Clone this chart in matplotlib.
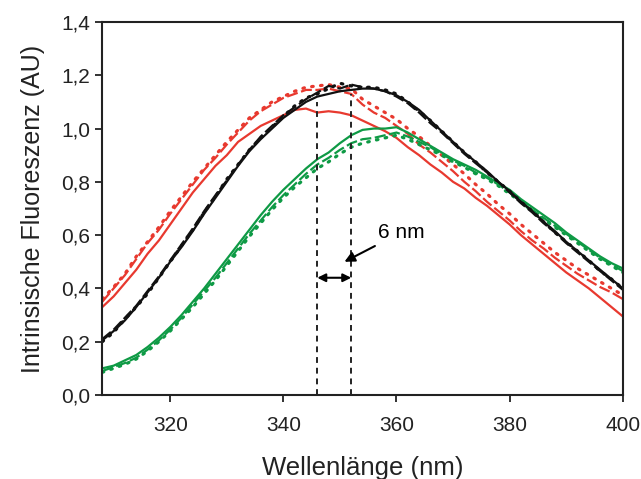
import numpy as np
import matplotlib
matplotlib.use("Agg")
import matplotlib.pyplot as plt

plt.rcParams['font.family'] = ['Liberation Sans', 'DejaVu Sans']

wavelength = list(range(308, 401, 2))

red_solid = [.33, .37, .42, .47, .53, .58, .64, .70, .76, .81, .86, .90, .95, .98, 1.01, 1.03,
             1.05, 1.07, 1.075, 1.06, 1.065, 1.06, 1.05, 1.03, 1.01, .99, .965, .93, .90, .865,
             .835, .80, .775, .74, .71, .675, .64, .60, .565, .53, .495, .46, .43, .40, .365, .33, .295]
red_dashed = [.35, .40, .45, .51, .57, .62, .68, .735, .79, .845, .89, .94, .985, 1.03, 1.065, 1.09,
              1.115, 1.13, 1.145, 1.145, 1.15, 1.14, 1.13, 1.09, 1.06, 1.04, 1.01, .98, .94, .91,
              .875, .84, .80, .765, .725, .69, .655, .615, .58, .55, .515, .485, .455, .43, .405, .385, .36]
red_dotted = [.36, .405, .455, .52, .575, .63, .69, .745, .80, .85, .90, .95, .995, 1.04, 1.07, 1.10,
              1.12, 1.14, 1.155, 1.16, 1.165, 1.155, 1.15, 1.11, 1.085, 1.06, 1.035, 1.0, .97, .935,
              .90, .865, .83, .79, .755, .715, .68, .64, .605, .57, .535, .505, .475, .45, .425, .40, .375]

black_solid = [.205, .24, .28, .33, .385, .44, .50, .555, .615, .68, .74, .80, .86, .915, .96, 1.0,
               1.04, 1.07, 1.10, 1.12, 1.13, 1.14, 1.145, 1.15, 1.15, 1.14, 1.125, 1.10, 1.07, 1.03,
               .99, .95, .91, .875, .84, .80, .765, .725, .69, .65, .615, .575, .54, .505, .47, .435, .40]
black_dashed = [.21, .245, .29, .335, .39, .445, .505, .565, .625, .69, .75, .805, .865, .92, .97, 1.01,
                1.05, 1.08, 1.11, 1.135, 1.16, 1.15, 1.165, 1.155, 1.15, 1.14, 1.12, 1.095, 1.06, 1.02,
                .985, .945, .905, .87, .835, .80, .76, .72, .685, .645, .61, .57, .535, .50, .465, .43, .395]
black_dotted = [.20, .235, .285, .33, .38, .44, .50, .56, .62, .685, .745, .81, .865, .92, .965, 1.005,
                1.045, 1.085, 1.115, 1.13, 1.15, 1.17, 1.16, 1.155, 1.155, 1.145, 1.13, 1.10, 1.065, 1.03,
                .99, .95, .91, .875, .835, .80, .765, .725, .69, .65, .61, .575, .54, .505, .465, .435, .40]

green_solid = [.10, .11, .13, .15, .18, .215, .255, .30, .35, .40, .455, .51, .565, .62, .675, .725,
               .77, .81, .85, .885, .91, .945, .975, .995, 1.0, 1.0, 1.005, .985, .96, .935,
               .91, .885, .865, .845, .82, .795, .77, .735, .705, .675, .645, .61, .58, .55, .52, .495, .475]
green_dashed = [.09, .105, .12, .14, .17, .205, .245, .29, .34, .39, .44, .495, .55, .605, .655, .705,
                .75, .79, .83, .865, .89, .92, .945, .96, .965, .975, .985, .97, .95, .93,
                .905, .88, .86, .835, .815, .79, .76, .73, .695, .665, .635, .605, .575, .545, .515, .49, .465]
green_dotted = [.085, .10, .115, .135, .165, .20, .24, .285, .33, .38, .43, .485, .54, .595, .645, .695,
                .74, .78, .815, .85, .875, .905, .93, .945, .955, .965, .975, .96, .94, .92,
                .90, .875, .855, .83, .81, .785, .755, .725, .69, .66, .63, .60, .57, .54, .51, .485, .46]

yticks = [0.0, 0.2, 0.4, 0.6, 0.8, 1.0, 1.2, 1.4]
ytick_labels = ['0,0', '0,2', '0,4', '0,6', '0,8', '1,0', '1,2', '1,4']
xticks = [320, 340, 360, 380, 400]

RED = '#e8392f'
BLACK = '#111111'
GREEN = '#0e9a45'

fig = plt.figure(figsize=(6.41, 4.79), dpi=100)
ax = fig.add_axes([0.1596, 0.1754, 0.812, 0.7787])

dash = (0, (5, 1.6))
dot = (0, (0.5, 2.3))
lw = 1.6
for col, s, d, t in [(RED, red_solid, red_dashed, red_dotted),
                     (GREEN, green_solid, green_dashed, green_dotted),
                     (BLACK, black_solid, black_dashed, black_dotted)]:
    ax.plot(wavelength, s, color=col, lw=lw, solid_joinstyle='round')
    ax.plot(wavelength, d, color=col, lw=lw, linestyle=dash)
    ax.plot(wavelength, t, color=col, lw=2.3, linestyle=dot, dash_capstyle='round')

ax.vlines(346, 0, 1.10, colors='#222222', linestyles=(0, (3, 2.5)), lw=1.4)
ax.vlines(352, 0, 1.13, colors='#222222', linestyles=(0, (3, 2.5)), lw=1.4)

ax.annotate('', xy=(346, 0.44), xytext=(352, 0.44),
            arrowprops=dict(arrowstyle='<|-|>', color='black', lw=1.5,
                            mutation_scale=12, shrinkA=0, shrinkB=0))
ax.annotate('6 nm', xy=(350.8, 0.50), xytext=(356.7, 0.61), fontsize=15,
            ha='left', va='center',
            arrowprops=dict(arrowstyle='-|>', color='black', lw=1.5,
                            mutation_scale=15, shrinkA=2, shrinkB=0))

ax.set_xlim(308, 400)
ax.set_ylim(0, 1.4)
ax.set_xticks(xticks)
ax.set_xticklabels([str(v) for v in xticks])
ax.set_yticks(yticks)
ax.set_yticklabels(ytick_labels)
ax.tick_params(axis='both', direction='out', length=5, width=1.3, labelsize=15, colors='#222222')
ax.tick_params(axis='x', pad=10)
for sp in ax.spines.values():
    sp.set_linewidth(1.5)
    sp.set_color('#222222')

ax.set_xlabel('Wellenlänge (nm)', fontsize=18.5, color='#222222', labelpad=15)
ax.set_ylabel('Intrinsische Fluoreszenz (AU)', fontsize=18, color='#222222', labelpad=12)

fig.savefig('out.png', dpi=100)
